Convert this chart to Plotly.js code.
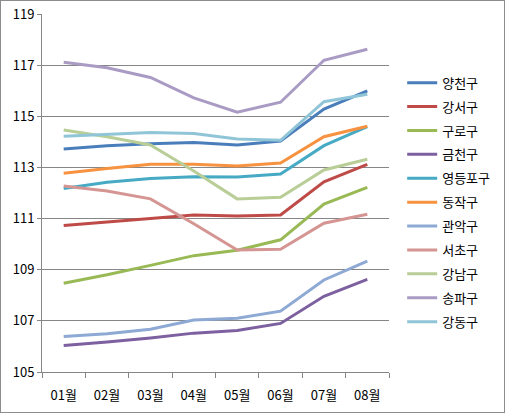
<!DOCTYPE html>
<html><head><meta charset="utf-8">
<script src="https://cdn.plot.ly/plotly-3.0.1.min.js"></script>
<style>
html,body{margin:0;padding:0;background:#fff;}
#wrap{position:relative;width:507px;height:416px;}
#chart{width:507px;height:416px;}
#frame{position:absolute;left:0;top:0;width:503px;height:411px;border:1px solid #8c8c8c;pointer-events:none;}
</style></head>
<body><div id="wrap"><div id="chart"></div><div id="frame"></div></div>
<script>
const months = ['01월','02월','03월','04월','05월','06월','07월','08월'];
const yangcheon = [113.72,113.85,113.93,113.97,113.88,114.03,115.28,115.99];
const gangseo   = [110.73,110.87,111.00,111.14,111.10,111.14,112.44,113.12];
const guro      = [108.47,108.80,109.17,109.55,109.76,110.17,111.57,112.22];
const geumcheon = [106.04,106.17,106.33,106.52,106.62,106.90,107.96,108.62];
const yeongdeungpo = [112.18,112.42,112.57,112.64,112.63,112.74,113.85,114.60];
const dongjak   = [112.77,112.96,113.12,113.12,113.06,113.17,114.20,114.61];
const gwanak    = [106.39,106.50,106.67,107.03,107.10,107.38,108.60,109.34];
const seocho    = [112.27,112.08,111.77,110.80,109.77,109.80,110.82,111.17];
const gangnam   = [114.46,114.20,113.88,112.86,111.77,111.83,112.90,113.32];
const songpa    = [117.11,116.90,116.52,115.72,115.16,115.55,117.19,117.62];
const gangdong  = [114.22,114.30,114.37,114.33,114.11,114.06,115.57,115.86];

const names = ['양천구','강서구','구로구','금천구','영등포구','동작구','관악구','서초구','강남구','송파구','강동구'];
const series = [yangcheon,gangseo,guro,geumcheon,yeongdeungpo,dongjak,gwanak,seocho,gangnam,songpa,gangdong];
const colors = ['#4A7EBB','#BE4B48','#98B954','#7D60A0','#46AAC5','#F69240','#8DA9D4','#D49593','#B8CE96','#A99BC4','#90C5D8'];

const traces = series.map((v,i)=>({
  type:'scatter', mode:'lines', x:months, y:v, name:names[i],
  legendgroup:'g'+i,
  line:{color:colors[i], width:3}
}));

const font = {family:'"Noto Sans CJK KR", "Noto Sans", sans-serif', size:13, color:'#000'};
const layout = {
  width:507, height:416,
  margin:{l:42, r:118, t:14, b:44},
  paper_bgcolor:'#fff', plot_bgcolor:'#fff',
  font:font,
  showlegend:true,
  legend:{x:1.038, xanchor:'left', y:0.85, yanchor:'top', itemwidth:30, tracegroupgap:4,
          font:{family:font.family, size:13, color:'#000'}, bgcolor:'rgba(0,0,0,0)'},
  xaxis:{type:'category', range:[-0.5,7.5], showgrid:false, showline:true, linecolor:'#868686', linewidth:1,
         ticks:'outside', tickson:'boundaries', ticklen:5, tickcolor:'#868686', tickfont:font,
         ticklabelstandoff:11, fixedrange:true},
  yaxis:{range:[105,119], dtick:2, tick0:105, showgrid:true, gridcolor:'#868686', gridwidth:1,
         showline:true, linecolor:'#868686', linewidth:1, ticks:'outside', ticklen:4, tickcolor:'#868686',
         tickfont:font, zeroline:false, fixedrange:true}
};
Plotly.newPlot('chart', traces, layout, {displayModeBar:false, staticPlot:true});
</script></body></html>
